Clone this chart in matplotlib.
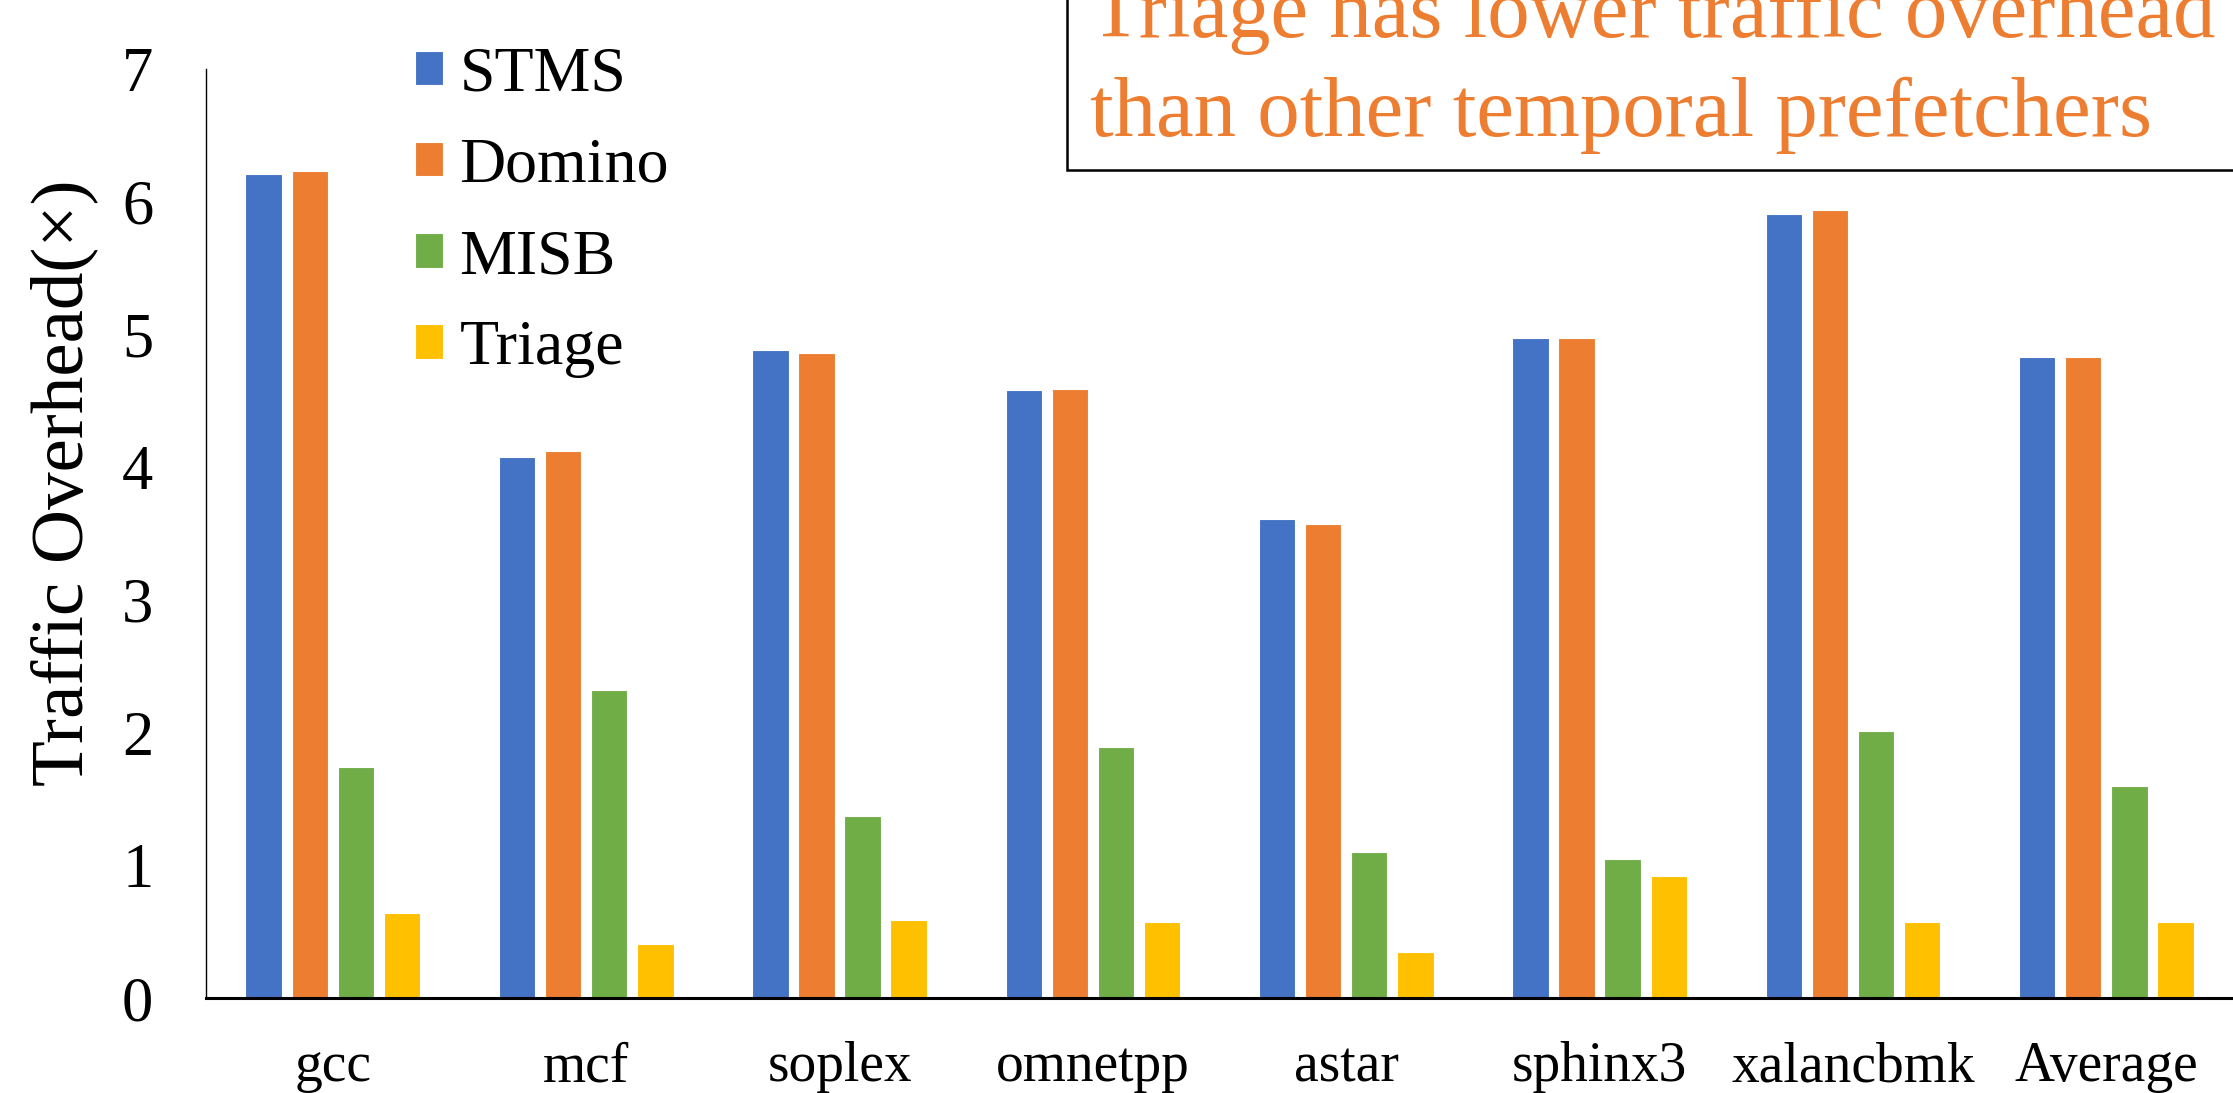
################################importing libraries##########################

import numpy as np
import matplotlib
matplotlib.use('Agg')
import matplotlib.pyplot as plt
from matplotlib.patches import Rectangle


#######################################defining data#################################################

benchmarks = ['gcc', 'mcf', 'soplex', 'omnetpp', 'astar', 'sphinx3', 'xalancbmk', 'Average']

stms   = [6.21, 4.08, 4.88, 4.58, 3.61, 4.97, 5.91, 4.83]
domino = [6.23, 4.12, 4.86, 4.59, 3.57, 4.97, 5.94, 4.83]
misb   = [1.74, 2.32, 1.37, 1.89, 1.10, 1.05, 2.01, 1.60]
triage = [0.64, 0.41, 0.59, 0.57, 0.35, 0.92, 0.57, 0.57]

series_names = ['STMS', 'Domino', 'MISB', 'Triage']
series_values = [stms, domino, misb, triage]

y_ticks = [0, 1, 2, 3, 4, 5, 6, 7]

note_text = 'Triage has lower traffic overhead\nthan other temporal prefetchers'


#######################################styles#################################################

colours = ['#4472C4', '#ED7D31', '#70AD47', '#FFC000']
serif = 'Liberation Serif'

plt.rcParams['font.family'] = [serif, 'DejaVu Serif']

bar_w = 0.1436
pitch = 0.182


#######################################drawing#################################################

fig = plt.figure(figsize=(22.33, 10.93), dpi=100)
ax = fig.add_axes([0.0923, 0.0869, 1.0 - 0.0923, 0.85])

x = np.arange(len(benchmarks))

for i, (name, vals) in enumerate(zip(series_names, series_values)):
    offset = (i - 1.5) * pitch
    ax.bar(x + offset, vals, width=bar_w, color=colours[i], label=name,
           edgecolor='white', linewidth=0.8, zorder=2)

ax.set_xlim(-0.5, len(benchmarks) - 0.5)
ax.set_ylim(0, 7)
ax.set_yticks(y_ticks)
ax.set_yticklabels([str(t) for t in y_ticks])
ax.set_xticks(x)
ax.set_xticklabels(benchmarks)

ax.tick_params(axis='y', length=0, pad=38, labelsize=45)
ax.tick_params(axis='x', length=0, pad=31, labelsize=40)

ax.spines['top'].set_visible(False)
ax.spines['right'].set_visible(False)
ax.spines['left'].set_linewidth(1.0)
ax.spines['bottom'].set_linewidth(2.2)

ax.set_ylabel('Traffic Overhead(\u00d7)', fontsize=54, ha='center', va='center')
ax.yaxis.set_label_coords(-0.070, 0.555)

####################################legend############################################

leg = ax.legend(loc='upper left', bbox_to_anchor=(0.18, 0.969), bbox_transform=fig.transFigure,
                frameon=False, fontsize=46, handlelength=0.45, handleheight=0.45,
                handletextpad=0.25, labelspacing=0.52, borderpad=0.2, borderaxespad=0)

####################################annotation box############################################

box = Rectangle((1067 / 2233, 1 - 170 / 1093), 0.6, 0.3, transform=fig.transFigure,
                facecolor='white', edgecolor='black', linewidth=1.8, zorder=5)
fig.patches.append(box)

fig.text(1090 / 2233, 1 - 136 / 1093, note_text, color='#ED7D31', fontsize=61,
         ha='left', va='baseline', linespacing=1.36, zorder=6)

fig.savefig('out.png', dpi=100)
